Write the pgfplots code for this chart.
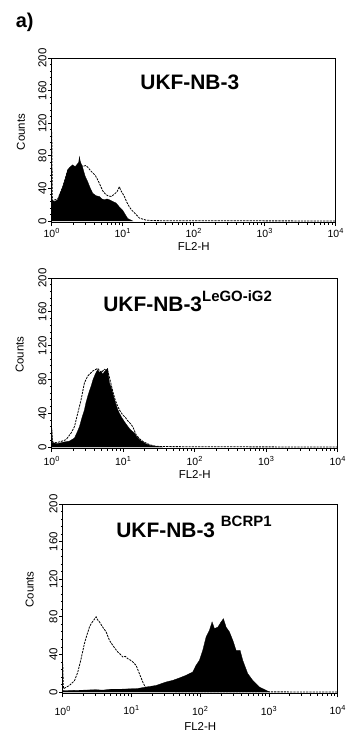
\documentclass[border=0pt]{standalone}
\usepackage{pgfplots}
\pgfplotsset{compat=1.18}
\usepackage{fontspec}
\setmainfont{Liberation Sans}
\begin{document}
\pgfplotsset{
  myflowax/.style={
    scale only axis,
    xmin=1, xmax=10000,
    ymin=-2, ymax=200,
    ytick={0,40,80,120,160,200},
    /pgf/number format/assume math mode=true,
    minor y tick num=4,
    xtick={1,10,100,1000,10000},
    xticklabels={10\textsuperscript{0},10\textsuperscript{1},10\textsuperscript{2},10\textsuperscript{3},10\textsuperscript{4}},
    minor xtick={2,3,4,5,6,7,8,9,20,30,40,50,60,70,80,90,200,300,400,500,600,700,800,900,2000,3000,4000,5000,6000,7000,8000,9000},
    tick align=outside,
    tick pos=left,
    major tick length=3.5bp,
    minor tick length=2bp,
    axis line style={line width=1bp},
    every tick/.append style={black, line width=0.8bp},
    xticklabel style={font=\fontsize{10.5}{10.5}\selectfont},
    yticklabel style={font=\fontsize{11.5}{11.5}\selectfont, rotate=90, anchor=south, inner sep=1.5bp},
    ylabel={Counts},
    xlabel={FL2-H},
    label style={font=\fontsize{11.5}{11.5}\selectfont},
    xlabel style={at={(axis description cs:0.5,0)}, anchor=center},
  },
  myctrl/.style={draw=black, line width=0.8bp, dash pattern=on 2.2bp off 1bp},
  mysamp/.style={fill=black, draw=black, line width=0.3bp},
}
\begin{tikzpicture}
\path (0bp,0bp) rectangle (346bp,-737bp);
\node[font=\fontsize{20}{20}\selectfont\bfseries] at (22bp,-22bp) {a)};

% Panel 1
\begin{axis}[xmode=log, myflowax, at={(49bp,-222.6bp)}, anchor=south west, width=284bp, height=164.6bp,
  ylabel style={at={(axis description cs:-0.109,0.55)}, anchor=center}, xlabel style={yshift=-24bp},
  xticklabel style={yshift=1bp}]
\addplot[myctrl] table {
1 109
1.02 25
1.216 27
1.429 42
1.679 62
1.977 68
2.203 66
2.506 70
2.735 67
3.0 68
3.214 66
3.5 62
3.776 59
4.1 56
4.467 50
4.8 44
5.224 37
5.7 33
6.152 31
6.9 30
7.638 33
8.3 36
8.974 42
9.3 38
9.772 35
10.54 30
11.4 23
12.42 17
13.5 13
14.59 10
17.18 3.5
21.33 1
26.49 0.5
39.8 0.3
100 0.3
10000 0
};
\addplot[mysamp] table {
1 0
1.005 25
1.1 24
1.216 26
1.3 33
1.429 42
1.55 52
1.679 63
1.8 66
1.977 69
2.1 66
2.203 68
2.399 72
2.45 79
2.506 74
2.6 70
2.735 65
2.95 55
3.214 48
3.5 40
3.776 34
4.2 31
4.688 30
5.1 27
5.521 26
6.0 27
6.486 26
7.2 24
8.054 22
9.0 17
10 13
11 7
11.75 3
13.8 0
} \closedcycle;
\node[anchor=base, font=\fontsize{21}{21}\selectfont\bfseries] at (rel axis cs:0.486,0.806) {UKF-NB-3};
\end{axis}

% Panel 2
\begin{axis}[xmode=log, myflowax, at={(49bp,-448.7bp)}, anchor=south west, width=286bp, height=170.7bp,
  ylabel style={at={(axis description cs:-0.112,0.55)}, anchor=center}, xlabel style={yshift=-25.5bp},
  xticklabel style={yshift=-1bp}]
\addplot[myctrl] table {
1 22
1.02 6
1.15 5
1.4 7
1.586 8.7
1.864 16.6
2.075 24
2.31 40
2.57 56
2.864 76
3.184 84
3.744 90
4.395 93
4.898 88
5.445 92
6.067 90
6.6 78
7.129 66
7.7 56
8.375 48
9.1 42
9.84 38
10.7 35
11.56 31
12.5 28
13.58 24
15.11 14.6
16.8 10
18.75 6.7
23.23 2.8
28.77 0.8
44.3 0.5
129 0.3
10000 0
};
\addplot[mysamp] table {
1 0
1.005 20
1.015 5
1.2 4
1.5 6
1.766 7
2.075 10.6
2.25 17
2.438 24
2.65 35
2.864 44
3.0 52
3.184 60
3.35 66
3.548 72
3.75 79
3.954 84
4.15 88
4.395 91.5
4.65 88
4.898 90
5.15 86
5.445 89
5.75 91
6.067 93
6.2 85
6.412 76
6.8 70
7.129 64
7.5 57
7.943 50
8.4 44
8.831 40
9.5 35
10.38 30
11.2 26
12.19 22
13.2 19
14.32 16.6
15.5 12
16.83 8.7
19.77 4.7
23.23 2
28.77 0.8
35.65 0
} \closedcycle;
\node[anchor=base west, font=\fontsize{21}{21}\selectfont\bfseries] at (rel axis cs:0.168,0.801) {UKF-NB-3\raisebox{0.5em}{\fontsize{15}{15}\selectfont LeGO-iG2}};
\end{axis}

% Panel 3
\begin{axis}[xmode=log, myflowax, at={(60bp,-693.9bp)}, anchor=south west, width=275bp, height=189.9bp,
  ylabel style={at={(axis description cs:-0.12,0.55)}, anchor=center}, xlabel style={yshift=-33bp},
  xticklabel style={yshift=-5bp}]
\addplot[myctrl] table {
1 30
1.023 3.5
1.25 7
1.479 12
1.652 21
1.849 35.5
2.065 51.5
2.25 61
2.443 69
2.6 73
2.793 76
3.055 80
3.2 77
3.415 74.6
3.819 69
4.266 64
4.775 55
5.336 49.7
5.8 46
6.31 42.6
6.9 40
7.46 37.3
8.1 38
8.81 35.5
9.6 34
10.43 32
11.66 28.4
13.03 19.5
14.58 10.7
16.29 3.5
18.23 1
25 0.5
10000 0
};
\addplot[mysamp] table {
1 0
1.02 1.5
2 2
3 2.5
3.82 2
5 3
7 3
10 3.5
11.66 3.5
16.29 5.3
22.78 7
31.84 10.7
39.8 12.4
49.8 15
62.2 17.8
77.8 21.3
86.9 28.4
97.2 33.7
108.7 44.4
121.6 58.6
135.9 65.7
148.6 74.6
160.7 67.5
179.9 69
201 74.6
217.3 78
237.7 69
265.5 64
297.2 55
332 44.4
379.3 44.4
415 33.7
490.9 19.5
580.4 12.4
726.1 5.3
907.8 1.8
1014 0
} \closedcycle;
\node[anchor=base west, font=\fontsize{21}{21}\selectfont\bfseries] at (rel axis cs:0.182,0.826) {UKF-NB-3 \raisebox{0.5em}{\fontsize{15}{15}\selectfont BCRP1}};
\end{axis}
\end{tikzpicture}
\end{document}
